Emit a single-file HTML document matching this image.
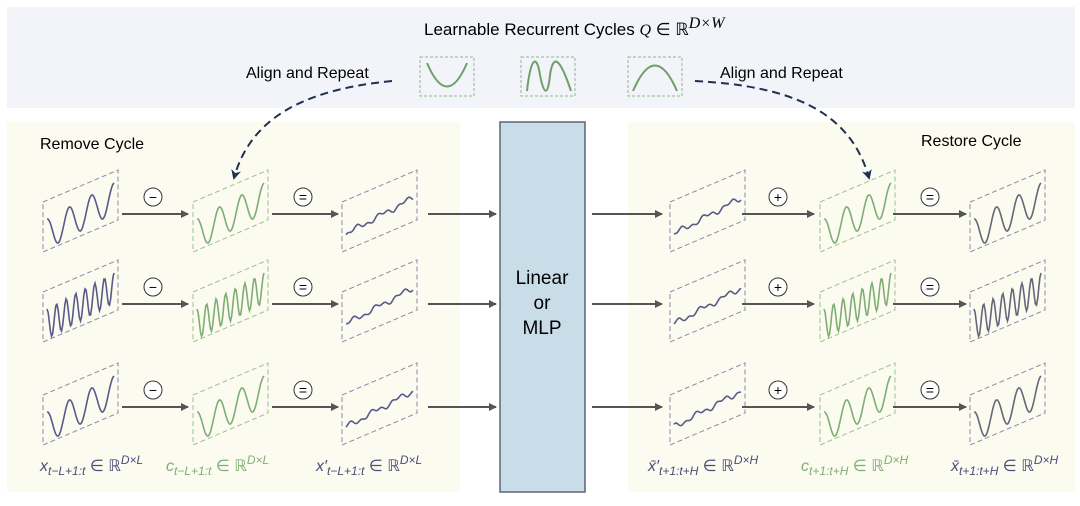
<!DOCTYPE html>
<html><head><meta charset="utf-8"><style>
body{margin:0;background:#fff;width:1080px;height:506px;overflow:hidden}
svg{display:block}
text{font-family:"Liberation Sans",sans-serif}
.m{font-family:"Liberation Serif",serif;font-style:italic;font-size:16px}
</style></head><body>
<svg id="s" width="1080" height="506" viewBox="0 0 1080 506" xmlns="http://www.w3.org/2000/svg">
<defs><marker id="ah" markerWidth="8" markerHeight="8" refX="7" refY="4" orient="auto" markerUnits="userSpaceOnUse"><path d="M0,0L8,4L0,8z" fill="#555"/></marker>
<marker id="ad" markerWidth="10" markerHeight="10" refX="8" refY="5" orient="auto" markerUnits="userSpaceOnUse"><path d="M0,0L10,5L0,10L3,5z" fill="#1f3050"/></marker></defs>
<rect x="7" y="7" width="1068" height="101" fill="#f2f4f9"/>
<rect x="7" y="122" width="453" height="370" fill="#fcfbf0"/>
<rect x="628" y="122" width="447" height="370" fill="#fcfbf0"/>
<rect x="500" y="122" width="85" height="370" fill="#c9dde8" stroke="#5a6478" stroke-width="1.5"/>
<text x="542" y="284" font-size="19" text-anchor="middle">Linear</text>
<text x="542" y="309" font-size="19" text-anchor="middle">or</text>
<text x="542" y="334" font-size="19" text-anchor="middle">MLP</text>
<text x="424" y="35" font-size="17">Learnable Recurrent Cycles <tspan class="m" font-size="18">Q</tspan> ∈ ℝ<tspan class="m" font-size="12" dy="-7">D×W</tspan></text>
<text x="246" y="78" font-size="16">Align and Repeat</text>
<text x="720" y="78" font-size="16">Align and Repeat</text>
<text x="40" y="149" font-size="16">Remove Cycle</text>
<text x="921" y="146" font-size="16">Restore Cycle</text>
<g fill="none" stroke="#8fb98a" stroke-dasharray="3,2" stroke-width="1"><rect x="420" y="57" width="54" height="39"/><rect x="521" y="57" width="54" height="39"/><rect x="628" y="57" width="54" height="39"/></g>
<g fill="none" stroke="#6f9f68" stroke-width="2"><path d="M427,63 Q447,110 467,63"/><path d="M527,91 C531,55 537,55 540,75 C544,96 548,96 550,75 C553,55 559,55 571,91"/><path d="M633,91 Q655,40 677,91"/></g>
<path d="M392,81 C300,90 250,120 234,178" fill="none" stroke="#1f3050" stroke-width="2" stroke-dasharray="8,5" marker-end="url(#ad)"/>
<path d="M695,81 C790,86 850,110 869,178" fill="none" stroke="#1f3050" stroke-width="2" stroke-dasharray="8,5" marker-end="url(#ad)"/>
<g id="g"></g>
<g class="m">
<text x="40" y="471" fill="#4b4d78">x<tspan font-size="12" dy="4">t−L+1:t</tspan><tspan dy="-4" font-style="normal"> ∈ ℝ</tspan><tspan font-size="12" dy="-7">D×L</tspan></text>
<text x="166" y="471" fill="#7fae74">c<tspan font-size="12" dy="4">t−L+1:t</tspan><tspan dy="-4" font-style="normal"> ∈ ℝ</tspan><tspan font-size="12" dy="-7">D×L</tspan></text>
<text x="316" y="471" fill="#4b4d78">x′<tspan font-size="12" dy="4">t−L+1:t</tspan><tspan dy="-4" font-style="normal"> ∈ ℝ</tspan><tspan font-size="12" dy="-7">D×L</tspan></text>
<text x="648" y="471" fill="#4b4d78">x̄′<tspan font-size="12" dy="4">t+1:t+H</tspan><tspan dy="-4" font-style="normal"> ∈ ℝ</tspan><tspan font-size="12" dy="-7">D×H</tspan></text>
<text x="801" y="471" fill="#7fae74">c<tspan font-size="12" dy="4">t+1:t+H</tspan><tspan dy="-4" font-style="normal"> ∈ ℝ</tspan><tspan font-size="12" dy="-7">D×H</tspan></text>
<text x="951" y="471" fill="#4b4d78">x̄<tspan font-size="12" dy="4">t+1:t+H</tspan><tspan dy="-4" font-style="normal"> ∈ ℝ</tspan><tspan font-size="12" dy="-7">D×H</tspan></text>
</g>
</svg>
<script>
var g=document.getElementById('g'),h='';
var cols=[43,193,342,670,820,970],rows=[212,302,405],fr=[3,7,3];
function para(x,y,c){return '<path d="M'+x+','+(y-10)+'L'+(x+75)+','+(y-42)+'L'+(x+75)+','+(y+8)+'L'+x+','+(y+40)+'Z" fill="none" stroke="'+c+'" stroke-dasharray="5,3"/>';}
function wave(x,y,f,amp,c,noise,seed){var p='';for(var i=0;i<=60;i++){var t=i/60;var px=x+4+t*67;var py=y+22-t*36;var v=-Math.cos(t*f*2*Math.PI)*amp;if(noise){v=Math.sin(t*17+seed)*2+Math.sin(t*41+seed*2)*1.5;}p+=(i?'L':'M')+px.toFixed(1)+','+(py+v).toFixed(1);}return '<path d="'+p+'" fill="none" stroke="'+c+'" stroke-width="1.6"/>';}
var blue='#5a5a8a',green='#7fae74',gd='#8a8aa8',gg='#9bc090';
rows.forEach(function(y,r){
 cols.forEach(function(x,c){var isG=(c==1||c==4);var res=(c==2||c==3);
  h+=para(x,y,isG?gg:gd);
  h+=wave(x,y,fr[r],res?0:15,isG?green:(c==5?'#66667a':blue),res,r+c);});
 var ar=[[122,188],[272,338],[428,496],[592,662],[742,814],[893,966]];
 ar.forEach(function(a){h+='<line x1="'+a[0]+'" y1="'+(y+2)+'" x2="'+a[1]+'" y2="'+(y+2)+'" stroke="#555" stroke-width="2" marker-end="url(#ah)"/>';});
 var ops=[[153,'−'],[303,'='],[778,'+'],[930,'=']];
 ops.forEach(function(o){h+='<circle cx="'+o[0]+'" cy="'+(y-15)+'" r="9" fill="#fff" stroke="#333" stroke-width="1"/><text x="'+o[0]+'" y="'+(y-10)+'" font-size="14" text-anchor="middle">'+o[1]+'</text>';});
});
g.innerHTML=h;
</script>
</body></html>
